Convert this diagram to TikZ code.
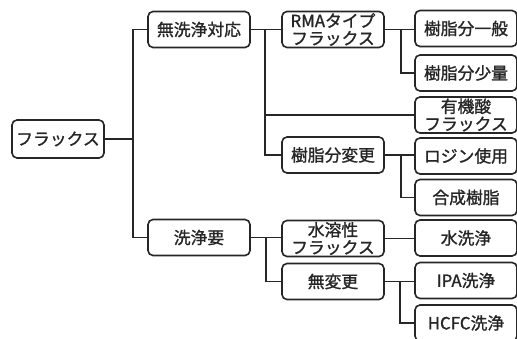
\documentclass[tikz,border=0pt]{standalone}
\usepackage{fontspec}
\setmainfont{Noto Sans CJK JP}[FakeBold=1.2]
\begin{document}
\begin{tikzpicture}[x=1pt,y=-1pt,
  box/.style={draw=black!85, line width=1.6pt, rounded corners=5pt, inner sep=0pt,
    minimum height=36pt, align=center, font=\fontsize{16.8}{17.5}\selectfont, text=black!85},
  wbox/.style={box, minimum width=102pt},
  conn/.style={draw=black!85, line width=1.6pt}]
\useasboundingbox (0,0) rectangle (517,338);
\fill[white] (0,0) rectangle (517,338);
% nodes
\node[box, minimum width=92pt, minimum height=38pt] (root) at (58,139) {フラックス};
\node[wbox] (A) at (199,29.5) {無洗浄対応};
\node[wbox] (B) at (199,237.5) {洗浄要};
\node[wbox] (A1) at (333,29.5) {RMAタイプ\\フラックス};
\node[wbox] (A2) at (466,115) {有機酸\\フラックス};
\node[wbox] (A3) at (333,155) {樹脂分変更};
\node[wbox] (L1) at (466,28.5) {樹脂分一般};
\node[wbox] (L2) at (466,73) {樹脂分少量};
\node[wbox] (L3) at (466,156) {ロジン使用};
\node[wbox] (L4) at (466,197.5) {合成樹脂};
\node[wbox] (B1) at (333,238.5) {水溶性\\フラックス};
\node[wbox] (B2) at (333,281.5) {無変更};
\node[wbox] (L5) at (466,238) {水洗浄};
\node[wbox] (L6) at (466,280.5) {IPA洗浄};
\node[wbox] (L7) at (466,323) {HCFC洗浄};
% junctions
\coordinate (j0) at (133,139);
\coordinate (jA) at (265,29.5);
\coordinate (jA1) at (401,29.5);
\coordinate (jA3) at (401,155);
\coordinate (jB) at (266,237.5);
\coordinate (jB2) at (400,281.5);
% connectors
\draw[conn] (root.east) -- (j0);
\draw[conn] (j0) |- (A.west);
\draw[conn] (j0) |- (B.west);
\draw[conn] (A.east) -- (A1.west);
\draw[conn] (jA) |- (A2.west);
\draw[conn] (jA) |- (A3.west);
\draw[conn] (A1.east) -- (L1.west |- jA1);
\draw[conn] (jA1) |- (L2.west);
\draw[conn] (A3.east) -- (L3.west |- jA3);
\draw[conn] (jA3) |- (L4.west);
\draw[conn] (B.east) -- (B1.west |- jB);
\draw[conn] (jB) |- (B2.west);
\draw[conn] (B1.east) -- (L5.west |- B1.east);
\draw[conn] (B2.east) -- (L6.west |- jB2);
\draw[conn] (jB2) |- (L7.west);
\end{tikzpicture}
\end{document}
